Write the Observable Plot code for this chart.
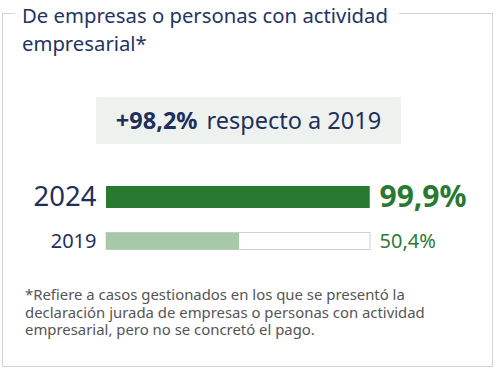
<!DOCTYPE html>
<html><head><meta charset="utf-8">
<script src="https://cdn.jsdelivr.net/npm/d3@7"></script>
<script src="https://cdn.jsdelivr.net/npm/@observablehq/plot@0.6"></script>
<style>
html,body{margin:0;padding:0;background:#fff;}
body{width:497px;height:371px;position:relative;overflow:hidden;font-family:"Noto Sans","Open Sans",sans-serif;}
#frame{position:absolute;left:2px;top:13px;width:489px;height:352px;border:1px solid #cfd4d8;box-sizing:content-box;}
#title{position:absolute;left:15px;top:1px;padding:0 7px;background:#fff;color:#1f3564;font-size:20.3px;line-height:28px;width:370px;}
#badge{position:absolute;left:96px;top:97px;width:305px;height:47px;background:#eef2ef;color:#1f2f5c;font-size:23.5px;line-height:47px;text-align:center;}
#badge b{font-weight:700;margin-right:9px;}
#chart{position:absolute;left:0;top:170px;}
#note{position:absolute;left:25px;top:286px;color:#555;font-size:14.9px;line-height:17.5px;width:450px;}
</style></head>
<body>
<div id="frame"></div>
<div id="title">De empresas o personas con actividad empresarial*</div>
<div id="badge"><b id="chg"></b><span id="chgtxt"></span></div>
<div id="chart"></div>
<div id="note"></div>
<script>
const years = ["2024", "2019"];
const values = [99.9, 50.4];
const valueLabels = ["99,9%", "50,4%"];
const change = "+98,2%";
const changeText = "respecto a 2019";
const footnote = "*Refiere a casos gestionados en los que se presentó la declaración jurada de empresas o personas con actividad empresarial, pero no se concretó el pago.";

document.getElementById("chg").textContent = change;
document.getElementById("chgtxt").textContent = changeText;
document.getElementById("note").textContent = footnote;

const data = years.map((y, i) => ({year: y, value: values[i], label: valueLabels[i]}));
const d24 = data.filter(d => d.year === "2024");
const d19 = data.filter(d => d.year === "2019");

const chart = Plot.plot({
  width: 497, height: 92,
  marginLeft: 0, marginRight: 0, marginTop: 0, marginBottom: 0,
  x: {domain: [0, 100], range: [106, 370], axis: null},
  y: {domain: years, range: [5, 93], padding: 0, axis: null},
  style: {fontFamily: "'Noto Sans','Open Sans',sans-serif"},
  marks: [
    Plot.barX(d19, {x: () => 100, y: "year", fill: "#fff", stroke: "#cfd2d2", strokeWidth: 1, insetTop: 13.5, insetBottom: 13.5}),
    Plot.barX(d19, {x: "value", y: "year", fill: "#a8c9a8", insetTop: 13.5, insetBottom: 13.5}),
    Plot.barX(d24, {x: "value", y: "year", fill: "#277a2f", insetTop: 11, insetBottom: 11}),
    Plot.text(d24, {x: () => 0, y: "year", text: "year", textAnchor: "end", dx: -10, fontSize: 27.5, fill: "#1f2f5c"}),
    Plot.text(d19, {x: () => 0, y: "year", text: "year", textAnchor: "end", dx: -10, fontSize: 20, fill: "#1f2f5c"}),
    Plot.text(d24, {x: () => 100, y: "year", text: "label", textAnchor: "start", dx: 9, fontSize: 30, fontWeight: "bold", fill: "#277a2f"}),
    Plot.text(d19, {x: () => 100, y: "year", text: "label", textAnchor: "start", dx: 9, fontSize: 20, fill: "#2f7a35"})
  ]
});
document.getElementById("chart").appendChild(chart);
</script>
</body></html>
